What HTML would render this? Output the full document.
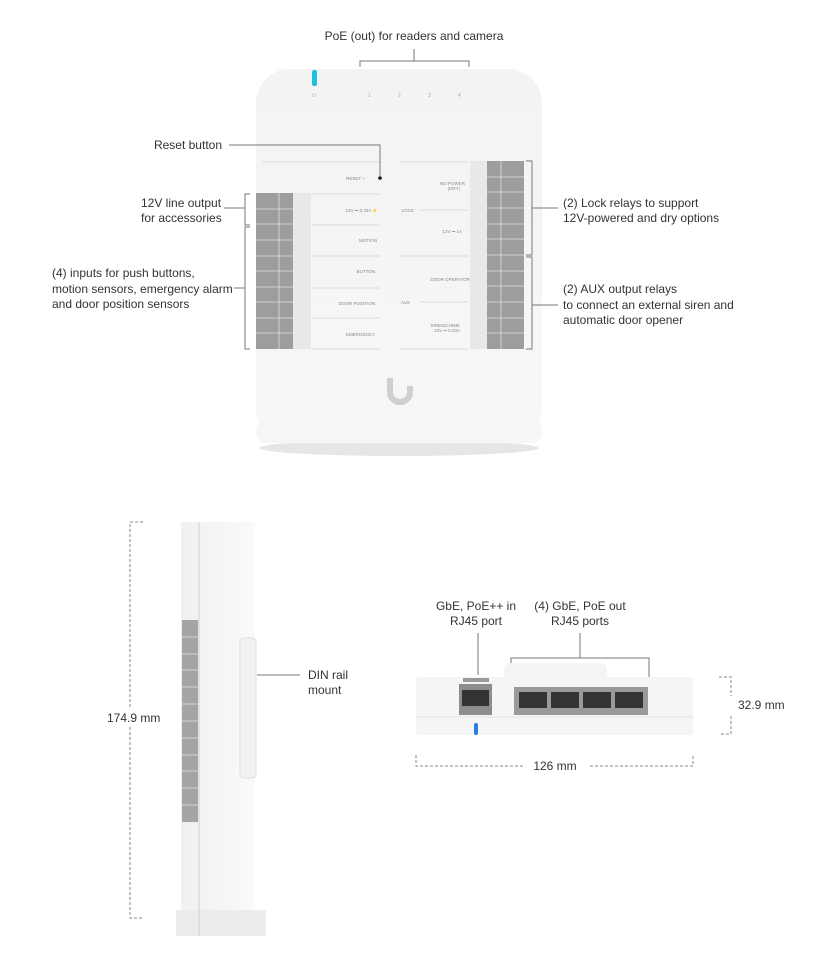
<!DOCTYPE html>
<html><head><meta charset="utf-8"><style>
html,body{margin:0;padding:0;background:#fff;}
svg{display:block;font-family:"Liberation Sans",sans-serif;}
</style></head><body>
<svg width="822" height="978" viewBox="0 0 822 978" xmlns="http://www.w3.org/2000/svg">
<defs>
<linearGradient id="bod" x1="0" y1="0" x2="0" y2="1"><stop offset="0" stop-color="#f3f3f4"/><stop offset="1" stop-color="#f7f7f8"/></linearGradient>
<linearGradient id="side" x1="0" y1="0" x2="1" y2="0"><stop offset="0" stop-color="#f0f0f0"/><stop offset="1" stop-color="#fafafa"/></linearGradient>
</defs>
<g fill="#333" font-size="12">
<text x="414" y="40" text-anchor="middle">PoE (out) for readers and camera</text>
<text x="222" y="149" text-anchor="end">Reset button</text>
<text x="141" y="207">12V line output</text>
<text x="141" y="222">for accessories</text>
<text x="52" y="277">(4) inputs for push buttons,</text>
<text x="52" y="293">motion sensors, emergency alarm</text>
<text x="52" y="308">and door position sensors</text>
<text x="563" y="207">(2) Lock relays to support</text>
<text x="563" y="222">12V-powered and dry options</text>
<text x="563" y="293">(2) AUX output relays</text>
<text x="563" y="309">to connect an external siren and</text>
<text x="563" y="324">automatic door opener</text>
<text x="107" y="722">174.9 mm</text>
<text x="308" y="679">DIN rail</text>
<text x="308" y="694">mount</text>
<text x="476" y="610" text-anchor="middle">GbE, PoE++ in</text>
<text x="476" y="625" text-anchor="middle">RJ45 port</text>
<text x="580" y="610" text-anchor="middle">(4) GbE, PoE out</text>
<text x="580" y="625" text-anchor="middle">RJ45 ports</text>
<text x="555" y="770" text-anchor="middle">126 mm</text>
<text x="738" y="709">32.9 mm</text>
</g>
<ellipse cx="399" cy="448" rx="140" ry="8" fill="#e6e6e6"/>
<rect x="256" y="69" width="286" height="374" rx="34" fill="url(#bod)"/>
<rect x="256" y="420" width="286" height="23" rx="10" fill="#f6f6f7"/>
<rect x="312" y="70" width="5" height="16" rx="2" fill="#1fc3e0"/>
<g fill="#aaa" font-size="5">
<text x="312" y="97">⏻</text><text x="368" y="97">1</text><text x="398" y="97">2</text><text x="428" y="97">3</text><text x="458" y="97">4</text>
</g>
<g stroke="#dcdcdc" stroke-width="1">
<line x1="262" y1="162" x2="380" y2="162"/><line x1="400" y1="162" x2="468" y2="162"/>
<line x1="312" y1="194" x2="380" y2="194"/><line x1="312" y1="225" x2="380" y2="225"/>
<line x1="312" y1="256" x2="380" y2="256"/><line x1="312" y1="288" x2="380" y2="288"/>
<line x1="312" y1="318" x2="380" y2="318"/><line x1="312" y1="349" x2="380" y2="349"/>
<line x1="420" y1="210" x2="468" y2="210"/><line x1="400" y1="256" x2="468" y2="256"/>
<line x1="420" y1="302" x2="468" y2="302"/><line x1="400" y1="349" x2="468" y2="349"/>
</g>
<g fill="#888" font-size="4.5" text-anchor="end">
<text x="365" y="180">RESET ○</text><text x="378" y="212">12V ⎓ 0.33A ⚡</text>
<text x="377" y="242">MOTION</text><text x="375" y="273">BUTTON</text><text x="375" y="305">DOOR POSITION</text>
<text x="375" y="336">EMERGENCY</text><text x="465" y="185">NO POWER</text><text x="460" y="190">(DRY)</text>
<text x="462" y="233">12V ⎓ 1A</text><text x="470" y="281">DOOR OPERATOR</text>
<text x="460" y="327">SIREN/CHIME</text><text x="460" y="332">12V ⎓ 0.33A</text>
<text x="414" y="212">LOCK</text><text x="410" y="304">AUX</text>
</g>
<circle cx="380" cy="178" r="1.8" fill="#111"/>
<rect x="293" y="193" width="18" height="156" fill="#e8e8e8"/>
<rect x="256" y="193" width="37" height="156" fill="#9d9d9d"/>
<g stroke="#e0e0e0" stroke-width="0.8">
<line x1="256" y1="209" x2="293" y2="209"/><line x1="256" y1="224" x2="293" y2="224"/><line x1="256" y1="240" x2="293" y2="240"/><line x1="256" y1="256" x2="293" y2="256"/><line x1="256" y1="271" x2="293" y2="271"/><line x1="256" y1="287" x2="293" y2="287"/><line x1="256" y1="302" x2="293" y2="302"/><line x1="256" y1="318" x2="293" y2="318"/><line x1="256" y1="333" x2="293" y2="333"/>
<line x1="279" y1="193" x2="279" y2="349"/>
</g>
<rect x="470" y="161" width="17" height="188" fill="#e8e8e8"/>
<rect x="487" y="161" width="37" height="188" fill="#9d9d9d"/>
<g stroke="#e0e0e0" stroke-width="0.8">
<line x1="487" y1="177" x2="524" y2="177"/><line x1="487" y1="192" x2="524" y2="192"/><line x1="487" y1="208" x2="524" y2="208"/><line x1="487" y1="224" x2="524" y2="224"/><line x1="487" y1="239" x2="524" y2="239"/><line x1="487" y1="255" x2="524" y2="255"/><line x1="487" y1="271" x2="524" y2="271"/><line x1="487" y1="286" x2="524" y2="286"/><line x1="487" y1="302" x2="524" y2="302"/><line x1="487" y1="318" x2="524" y2="318"/><line x1="487" y1="333" x2="524" y2="333"/>
<line x1="501" y1="161" x2="501" y2="349"/>
</g>
<path d="M390 378 v14 a10 10 0 0 0 20 0 v-6" fill="none" stroke="#cfcfd2" stroke-width="6"/>
<g stroke="#777" stroke-width="1" fill="none">
<path d="M360 67 V61 H469 V67 M414 61 V49"/>
<path d="M229 145 H380 V177"/>
<path d="M250 194 H245 V225 H250 M245 208 H224"/>
<path d="M250 227 H245 V349 H250 M245 288 H234"/>
<path d="M526 161 H532 V255 H526 M532 208 H558"/>
<path d="M526 257 H532 V349 H526 M532 305 H558"/>
<path d="M257 675 H300"/>
<path d="M478 675 V633 M511 680 V658 H649 V680 M580 658 V633"/>
</g>
<g stroke="#888" stroke-width="1" fill="none" stroke-dasharray="3,2">
<path d="M143 522 H130 V707 M130 727 V918 H143"/>
<path d="M416 755 V766 H525 M590 766 H693 V755"/>
<path d="M719 677 H731 V696 M731 716 V734 H719"/>
</g>
<rect x="181" y="522" width="74" height="396" fill="url(#side)"/>
<rect x="176" y="910" width="90" height="26" fill="#ececec"/>
<line x1="199" y1="522" x2="199" y2="936" stroke="#cfcfcf"/>
<rect x="240" y="638" width="16" height="140" rx="4" fill="#f1f1f1" stroke="#ddd"/>
<rect x="182" y="620" width="16" height="202" fill="#a5a5a5"/>
<g stroke="#e0e0e0" stroke-width="0.8">
<line x1="182" y1="637" x2="198" y2="637"/><line x1="182" y1="654" x2="198" y2="654"/><line x1="182" y1="670" x2="198" y2="670"/><line x1="182" y1="687" x2="198" y2="687"/><line x1="182" y1="704" x2="198" y2="704"/><line x1="182" y1="721" x2="198" y2="721"/><line x1="182" y1="738" x2="198" y2="738"/><line x1="182" y1="755" x2="198" y2="755"/><line x1="182" y1="771" x2="198" y2="771"/><line x1="182" y1="788" x2="198" y2="788"/><line x1="182" y1="805" x2="198" y2="805"/>
</g>
<rect x="504" y="663" width="103" height="20" rx="6" fill="#f4f4f4"/>
<rect x="416" y="677" width="277" height="58" rx="3" fill="#f5f5f6"/>
<line x1="416" y1="717" x2="693" y2="717" stroke="#e4e4e4"/>
<rect x="463" y="678" width="26" height="4" fill="#999"/>
<rect x="459" y="684" width="33" height="31" fill="#8d8d8d"/>
<rect x="462" y="690" width="27" height="16" fill="#333"/>
<rect x="514" y="687" width="134" height="28" fill="#999"/>
<g fill="#333"><rect x="519" y="692" width="28" height="16"/><rect x="551" y="692" width="28" height="16"/><rect x="583" y="692" width="28" height="16"/><rect x="615" y="692" width="28" height="16"/></g>
<rect x="474" y="723" width="4" height="12" rx="2" fill="#2a7de0"/>
</svg>
</body></html>
